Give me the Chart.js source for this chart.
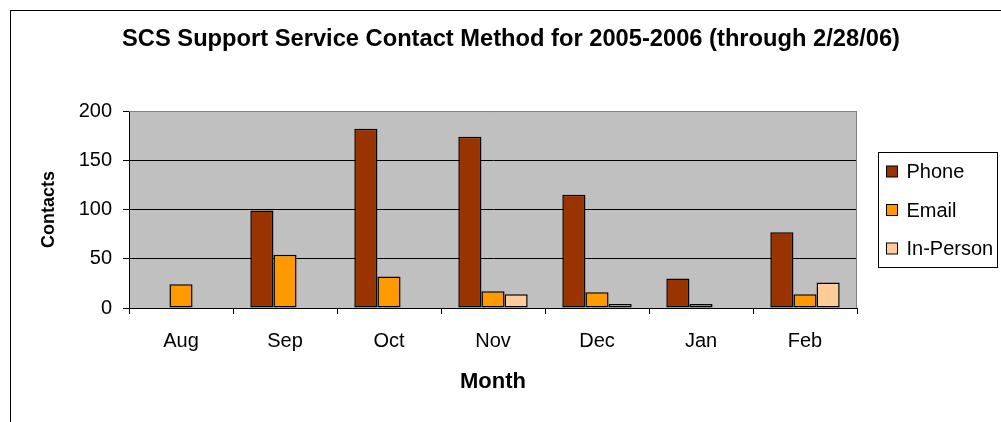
<!DOCTYPE html>
<html>
<head>
<meta charset="utf-8">
<script src="https://cdn.jsdelivr.net/npm/chart.js@4.4.1/dist/chart.umd.min.js"></script>
<style>
  html, body { margin: 0; padding: 0; background: #fff; overflow: hidden; }
  #wrap { width: 1022px; height: 422px; }
</style>
</head>
<body>
<div id="wrap"><canvas id="contactChart" width="1022" height="422"></canvas></div>
<script>
// data
const months = ["Aug", "Sep", "Oct", "Nov", "Dec", "Jan", "Feb"];
const phone = [0, 99, 182, 174, 115, 30, 77];
const email = [24, 54, 32, 17, 16, 4, 14];
const inPerson = [0, 0, 0, 14, 4, 0, 26];
const yTicks = [0, 50, 100, 150, 200];

const FONT = "'Liberation Sans', Arial, sans-serif";
Chart.defaults.font.family = FONT;
Chart.defaults.font.size = 20;
Chart.defaults.color = "#000";

// outer frame, grey plot area, plot border and boxed legend (Excel look)
const excelLook = {
    id: "excelLook",
    beforeDraw(chart) {
        const c = chart.ctx, a = chart.chartArea;
        c.save();
        c.fillStyle = "#fff";
        c.fillRect(0, 0, chart.width, chart.height);
        c.strokeStyle = "#000";
        c.lineWidth = 1;
        c.strokeRect(10.5, 10.5, chart.width - 21, chart.height + 20);
        c.fillStyle = "#c0c0c0";
        c.fillRect(a.left, a.top, a.right - a.left, a.bottom - a.top);
        c.restore();
    },
    afterDraw(chart) {
        const c = chart.ctx, a = chart.chartArea;
        c.save();
        c.strokeStyle = "#808080";
        c.lineWidth = 1;
        c.beginPath();
        c.moveTo(a.left, a.top + 0.5);
        c.lineTo(a.right - 0.5, a.top + 0.5);
        c.lineTo(a.right - 0.5, a.bottom);
        c.stroke();

        // legend box
        const lx = a.right + 21.5, ly = 152.5;
        c.strokeStyle = "#000";
        c.strokeRect(lx, ly, 119, 115);
        c.font = "20px " + FONT;
        c.textBaseline = "middle";
        c.textAlign = "left";
        chart.data.datasets.forEach((ds, i) => {
            const cy = ly + 19 + i * 38.5;
            c.fillStyle = ds.backgroundColor;
            c.fillRect(lx + 8, cy - 5.5, 11, 11);
            c.strokeRect(lx + 8, cy - 5.5, 11, 11);
            c.fillStyle = "#000";
            c.fillText(ds.label, lx + 28, cy + 1);
        });
        c.restore();
    }
};

new Chart(document.getElementById("contactChart").getContext("2d"), {
    type: "bar",
    data: {
        labels: months,
        datasets: [
            { label: "Phone", data: phone, backgroundColor: "#993300" },
            { label: "Email", data: email, backgroundColor: "#ff9900" },
            { label: "In-Person", data: inPerson, backgroundColor: "#ffcc99" }
        ].map(d => Object.assign(d, {
            borderColor: "#000",
            borderWidth: 1.5,
            borderSkipped: false,
            categoryPercentage: 0.667,
            barPercentage: 1.0
        }))
    },
    options: {
        responsive: false,
        animation: false,
        layout: { padding: 0 },
        plugins: {
            legend: { display: false },
            tooltip: { enabled: false },
            title: {
                display: true,
                text: "SCS Support Service Contact Method for 2005-2006 (through 2/28/06)",
                font: { size: 23.7, weight: "bold" },
                color: "#000",
                padding: { top: 25, bottom: 57.6 }
            }
        },
        scales: {
            x: {
                afterFit: s => { s.height = 114; },
                grid: {
                    offset: true,
                    drawOnChartArea: false,
                    drawTicks: true,
                    tickLength: 6,
                    color: "#000"
                },
                border: { color: "#000", width: 1 },
                ticks: { padding: 15, font: { size: 20 } },
                title: {
                    display: true,
                    text: "Month",
                    font: { size: 22, weight: "bold" },
                    padding: { top: 0, bottom: 27 }
                }
            },
            y: {
                min: yTicks[0],
                max: yTicks[yTicks.length - 1],
                afterFit: s => { s.width = 129; },
                afterBuildTicks: s => { s.ticks = yTicks.map(v => ({ value: v })); },
                grid: {
                    color: ctx => (ctx.tick && ctx.tick.value === 200 ? "#808080" : "#000"),
                    tickColor: "#000",
                    tickLength: 6
                },
                border: { color: "#000", width: 1 },
                ticks: { padding: 11, font: { size: 20 } },
                title: {
                    display: true,
                    text: "Contacts",
                    font: { size: 18, weight: "bold" },
                    padding: { top: 38, bottom: 0 }
                }
            },
            // empty axis on the right that keeps room for the legend box
            legendSpace: {
                position: "right",
                display: true,
                afterFit: s => { s.width = 165; },
                grid: { display: false, drawTicks: false },
                border: { display: false },
                ticks: { display: false }
            }
        }
    },
    plugins: [excelLook]
});
</script>
</body>
</html>
